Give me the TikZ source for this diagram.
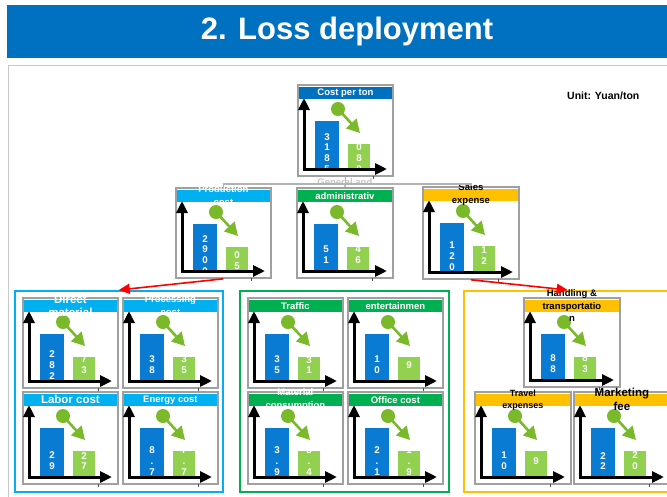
\documentclass[tikz,border=0pt]{standalone}
\usepackage{fontspec}
\setmainfont{Liberation Sans}
\usetikzlibrary{arrows.meta,calc}
\definecolor{titleblue}{HTML}{0070C0}
\definecolor{barblue}{HTML}{0A7BD3}
\definecolor{lightblue}{HTML}{00B0F0}
\definecolor{hdrgreen}{HTML}{00B050}
\definecolor{hdryellow}{HTML}{FFC000}
\definecolor{bargreen}{HTML}{92D050}
\definecolor{circgreen}{HTML}{7AB929}
\definecolor{cardgray}{HTML}{A0A0A0}
\definecolor{panelgray}{HTML}{C8C8C8}

\newcommand\mkcard[7]{%
 \node[cardbox, minimum width=#4pt, minimum height=#5pt] (#1) at (#2,#3) {};
 \begin{scope}[shift={(#2,#3)}]
  \fill[barblue] (18,37) rectangle (42,#5-6);
  \fill[bargreen] (51,60) rectangle (73,#5-6);
  \node[digit] (#1-b) at (30,#5-22) {#6};
  \node[digit] (#1-g) at (62,#5-22) {#7};
  \draw[axisline] (7,14) -- (7,#5-6) -- (#4-5,#5-6);
  \node[ball] (#1-c) at (41,25) {};
  \coordinate (#1-t) at (63,49);
  \draw[garrow] (#1-c.center) -- (#1-t);
  \draw[tickline] (76,#5+0.9) -- (76,#5+3.5);
 \end{scope}}

\newcommand\mkhdr[6]{%
 \fill[#2] ($(#1.north west)+(2,2.5)$) rectangle ($(#1.north east)+(-2,15)$);
 \node[hdrtext, text=#3, font=\bfseries\fontsize{#4}{#5}\selectfont] (#1-h) at ($(#1.north)+(0,8.75)$) {#6};}

\begin{document}
\begin{tikzpicture}[x=1pt,y=-1pt,
  cardbox/.style={draw=cardgray, line width=1.8pt, fill=white, inner sep=0, anchor=north west},
  digit/.style={text=white, font=\bfseries\fontsize{9.8}{10.8}\selectfont, align=center, inner sep=0},
  hdrtext/.style={align=center, inner sep=0},
  axisline/.style={line width=3pt, line join=miter, {Triangle[length=12pt,width=11pt]}-{Triangle[length=12pt,width=11pt]}},
  garrow/.style={draw=circgreen, line width=2.6pt, -{Triangle[length=13pt,width=14pt]}},
  ball/.style={circle, fill=circgreen, minimum size=14pt, inner sep=0},
  tickline/.style={draw=black!70, line width=1pt},
  conn/.style={draw=gray!60, line width=1.5pt},
  redarr/.style={draw=red, line width=1.6pt, -{Triangle[length=11pt,width=10pt]}},
  grp/.style={line width=1.5pt, inner sep=0, anchor=north west, minimum width=208pt, minimum height=201pt}
]
\useasboundingbox (0,0) rectangle (667,496);
\clip (0,0) rectangle (667,496);
\fill[white] (0,0) rectangle (667,496);

% title
\node[fill=titleblue, minimum width=660pt, minimum height=53pt, inner sep=0, anchor=north west] (title) at (7,5) {};
\node[text=white, font=\bfseries\fontsize{31}{36}\selectfont] (titletext) at (347,31.5) {2. Loss deployment};

% panel
\node[draw=panelgray, line width=1.8pt, inner sep=0, anchor=north west, minimum width=700pt, minimum height=460pt] (panel) at (7.5,64.5) {};

\node[font=\bfseries\fontsize{10.5}{13}\selectfont, anchor=west, inner sep=0] (unit) at (567,96) {Unit: Yuan/ton};

% groups
\node[grp, draw=lightblue] (gL) at (14,290) {};
\node[grp, draw=hdrgreen, minimum width=209pt] (gM) at (239,290) {};
\node[grp, draw=hdryellow] (gR) at (463,290) {};

% top card
\mkcard{top}{297}{84}{95}{91}{3\\1\\8\\5}{3\\0\\8\\0}
\mkhdr{top}{titleblue}{white}{9.5}{12.5}{Cost per ton}

% level 2
\mkcard{prod}{175}{187}{95}{90}{2\\9\\0\\0}{8\\0\\5}
\mkhdr{prod}{lightblue}{white}{9.5}{13}{Production\\cost}
\mkcard{adm}{296}{187}{96}{90}{5\\1}{4\\6}
\mkhdr{adm}{hdrgreen}{white}{9.5}{13}{administrativ}
\node[text=gray!45, font=\bfseries\fontsize{9.5}{12}\selectfont, inner sep=0] (admtop) at ($(adm.north)+(0,-4.5)$) {General and};
\mkcard{sales}{422}{186}{96}{92}{1\\2\\0}{1\\2}
\mkhdr{sales}{hdryellow}{black}{9.5}{13}{Sales\\expense}

% connectors
\draw[conn] (top.south) -- ++(0,7) coordinate (jn) -| (prod.north);
\draw[conn] (jn) -| (sales.north);
\draw[conn] (jn) -- (adm.north);

% left group
\mkcard{dm}{22}{297}{95}{90}{2\\8\\2}{7\\3}
\mkhdr{dm}{lightblue}{white}{11.5}{13}{Direct\\material}
\mkcard{pc}{122}{297}{95}{90}{3\\8}{3\\5}
\mkhdr{pc}{lightblue}{white}{9.5}{13}{Processing\\cost}
\mkcard{lc}{22}{391}{95}{92}{2\\9}{2\\7}
\mkhdr{lc}{lightblue}{white}{11.5}{13}{Labor cost}
\mkcard{ec}{122}{391}{95}{92}{8\\.\\7}{7\\.\\7}
\mkhdr{ec}{lightblue}{white}{9.5}{13}{Energy cost}

% middle group
\mkcard{tr}{247}{297}{95}{90}{3\\5}{3\\1}
\mkhdr{tr}{hdrgreen}{white}{9.5}{13}{Traffic}
\mkcard{en}{347}{297}{95}{90}{1\\0}{9}
\mkhdr{en}{hdrgreen}{white}{9.5}{13}{entertainmen}
\mkcard{mc}{247}{391}{95}{92}{3\\.\\9}{3\\.\\4}
\mkhdr{mc}{hdrgreen}{white}{9.5}{13}{Material\\consumption}
\mkcard{oc}{347}{391}{95}{92}{2\\.\\1}{1\\.\\9}
\mkhdr{oc}{hdrgreen}{white}{9.5}{13}{Office cost}

% right group
\mkcard{ht}{523}{297}{96}{89}{8\\8}{8\\3}
\mkhdr{ht}{hdryellow}{black}{9.5}{12.5}{Handling \&\\transportatio\\n}
\mkcard{te}{474}{391}{96}{92}{1\\0}{9}
\mkhdr{te}{hdryellow}{black}{9}{12}{Travel\\expenses}
\mkcard{mf}{573}{391}{96}{92}{2\\2}{2\\0}
\mkhdr{mf}{hdryellow}{black}{11.5}{14}{Marketing\\fee}

% red arrows
\draw[redarr] (prod.south) -- (gL.north);
\draw[redarr] (sales.south) -- (gR.north);
\end{tikzpicture}
\end{document}
